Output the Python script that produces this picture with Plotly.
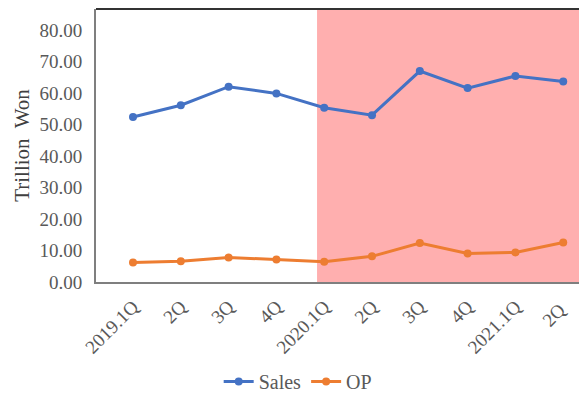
import plotly.graph_objects as go

# Quarterly results, trillion won
quarters = ["2019.1Q", "2Q", "3Q", "4Q", "2020.1Q", "2Q", "3Q", "4Q", "2021.1Q", "2Q "]
sales = [52.39, 56.13, 62.00, 59.88, 55.33, 52.97, 66.96, 61.55, 65.39, 63.67]
op = [6.23, 6.60, 7.78, 7.16, 6.45, 8.15, 12.35, 9.05, 9.38, 12.57]
y_ticks = [0, 10, 20, 30, 40, 50, 60, 70, 80]

idx = list(range(len(quarters)))
serif = "Times New Roman, Liberation Serif, serif"
tick_color = "#595959"

fig = go.Figure()
fig.add_trace(go.Scatter(
    x=idx, y=sales, name="Sales", mode="lines+markers",
    line=dict(color="#4472C4", width=3), marker=dict(size=8, color="#4472C4"),
))
fig.add_trace(go.Scatter(
    x=idx, y=op, name="OP", mode="lines+markers",
    line=dict(color="#ED7D31", width=3), marker=dict(size=8, color="#ED7D31"),
))

# Shaded period from 2020 onwards
fig.add_shape(type="rect", xref="x", yref="paper", x0=3.85, x1=9.4, y0=0, y1=1,
              fillcolor="#FFAFAF", line=dict(width=0), layer="below")
# Top border of the plot area
fig.add_shape(type="line", xref="paper", yref="paper", x0=0, x1=1, y0=1, y1=1,
              line=dict(color="#333333", width=2))

fig.update_layout(
    width=579, height=401,
    margin=dict(l=96, r=0, t=9, b=119),
    paper_bgcolor="white", plot_bgcolor="white",
    font=dict(family=serif, color=tick_color, size=19),
    showlegend=True,
    legend=dict(orientation="h", x=0.515, xref="container", xanchor="center",
                y=0, yref="container", yanchor="bottom",
                font=dict(size=20, color=tick_color, family=serif),
                itemwidth=30, tracegroupgap=0),
    xaxis=dict(
        range=[-0.774, 9.33], tickmode="array", tickvals=idx, ticktext=quarters,
        tickangle=-45, showgrid=False, zeroline=False,
        showline=True, linecolor="#7F7F7F", linewidth=2,
        ticklabelstandoff=4,
        tickfont=dict(size=19, color=tick_color, family=serif),
    ),
    yaxis=dict(
        range=[0, 86.67], tickmode="array", tickvals=y_ticks,
        ticktext=[f"{v:.2f}" for v in y_ticks],
        showgrid=False, zeroline=False,
        showline=True, linecolor="#7F7F7F", linewidth=2,
        ticklabelstandoff=8,
        tickfont=dict(size=19, color=tick_color, family=serif),
        title=dict(text="Trillion  Won", font=dict(size=21, color="#404040", family=serif),
                   standoff=4),
    ),
)

fig.write_html("out.html")
